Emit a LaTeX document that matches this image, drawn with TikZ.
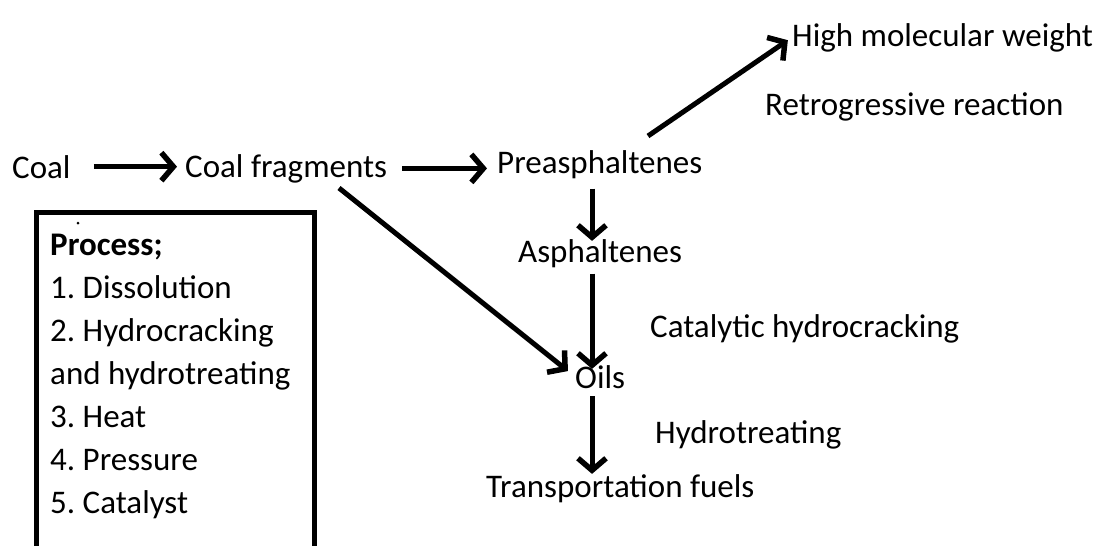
\documentclass[tikz,border=0pt]{standalone}
\usepackage{fontspec}
\setmainfont{Carlito}
\usetikzlibrary{arrows.meta}
\frenchspacing

\tikzset{
  lbl/.style={anchor=base west, inner sep=0pt, font=\fontsize{33}{43}\selectfont},
  flow/.style={line width=5pt, -{Straight Barb[length=12pt,width=28pt,line width=5.5pt]}},
}

\begin{document}
\begin{tikzpicture}[x=1pt,y=-1pt]
\useasboundingbox (0,0) rectangle (1096,546);
\coordinate (spine) at (592,0);
\coordinate (fragfoot) at (339,188);
\coordinate (pretop) at (648,136);
% main chain
\node[lbl] (coal) at (12,178) {Coal};
\node[lbl] (frag) at (185,177) {Coal fragments};
\node[lbl] (pre) at (497,173) {Preasphaltenes};
\node[lbl] (hmw) at (792,46) {High molecular weight};
\node[lbl] (retro) at (765,115) {Retrogressive reaction};
\node[lbl] (asph) at (518,262) {Asphaltenes};
\node[lbl] (cathc) at (650,337) {Catalytic hydrocracking};
\node[lbl] (oils) at (575,388) {Oils};
\node[lbl] (hydrot) at (655,443) {Hydrotreating};
\node[lbl] (fuels) at (486,497) {Transportation fuels};
% process box
\draw[line width=5pt] (36,560) -- (36,212) -- (314,212) -- (314,560);
\fill (78,223) circle (1.5);
\foreach \txt [count=\i from 0] in {{\textbf{Process;}},{1. Dissolution},{2. Hydrocracking},{and hydrotreating},{3. Heat},{4. Pressure},{5. Catalyst}}
  \node[lbl] (stp\i) at (50,255+43*\i) {\txt};
% arrows
\draw[flow,shorten <=23pt,shorten >=8pt] (coal.east) -- (coal.east -| frag.west);
\draw[flow,shorten <=15pt,shorten >=10pt] (frag.east) -- (frag.east -| pre.west);
\draw[flow,shorten >=5pt] (pretop) -- (hmw.west);
\draw[flow,shorten <=10pt,shorten >=-2pt] (pre.south -| spine) -- (asph.north -| spine);
\draw[flow,shorten <=6pt,shorten >=-4pt] (asph.south -| spine) -- (oils.north -| spine);
\draw[flow,shorten <=8pt,shorten >=0pt] (oils.south -| spine) -- (fuels.north -| spine);
\draw[flow,shorten >=9pt] (fragfoot) -- (oils.west);
\end{tikzpicture}
\end{document}
